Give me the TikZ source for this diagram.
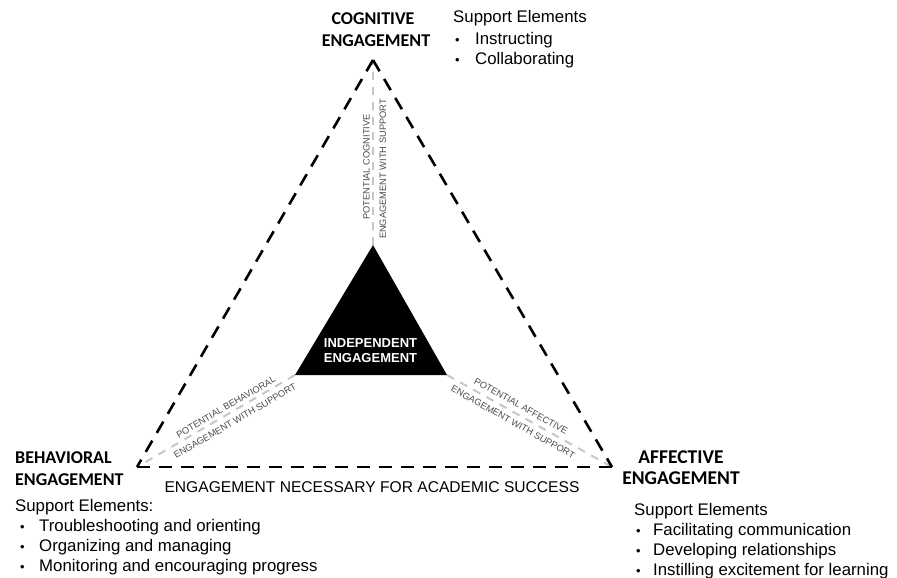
\documentclass[tikz,border=0pt]{standalone}
\usepackage{fontspec}
\setmainfont{Liberation Sans}
\newfontfamily\labfont{Carlito}
\begin{document}
\begin{tikzpicture}[x=1pt,y=-1pt,
  outer/.style={line width=2.6pt, dash pattern=on 13pt off 9pt},
  innerline/.style={line width=2pt, draw=black!22, dash pattern=on 8pt off 7pt},
  lab/.style={font=\labfont\bfseries\fontsize{18}{22}\selectfont, inner sep=0pt, anchor=base},
  labr/.style={font=\labfont\bfseries\fontsize{19.5}{23}\selectfont, inner sep=0pt, anchor=base},
  sup/.style={font=\fontsize{16.8}{20}\selectfont, anchor=base west, inner sep=0pt},
  bul/.style={font=\fontsize{13}{20}\selectfont, anchor=base west, inner sep=0pt},
  pot/.style={font=\fontsize{9.3}{10}\selectfont, text=black!70, inner sep=0pt},
  indep/.style={font=\bfseries\fontsize{13}{15}\selectfont, text=white, inner sep=0pt, anchor=base},
  nec/.style={font=\fontsize{15.6}{18}\selectfont, inner sep=0pt, anchor=base},
]
\useasboundingbox (0,0) rectangle (897,578);
% vertices
\coordinate (C) at (373,60);
\coordinate (B) at (137,467);
\coordinate (A) at (612,467);
\coordinate (ic) at (373,245);
\coordinate (ib) at (295,375);
\coordinate (ia) at (447,375);
% gray potential lines
\draw[innerline] (ic) -- (C);
\draw[innerline] (ib) -- (B);
\draw[innerline] (ia) -- (A);
% inner triangle
\fill[black] (ic) -- (ib) -- (ia) -- cycle;
\node[indep] (ind1) at (370.5,347) {INDEPENDENT};
\node[indep] (ind2) at (370.5,362) {ENGAGEMENT};
% outer dashed triangle
\draw[outer] (C) -- (B);
\draw[outer] (C) -- (A);
\draw[outer] (B) -- (A);
% potential labels
\node[pot, rotate=90] (pc1) at (366.5,167) {POTENTIAL COGNITIVE};
\node[pot, rotate=90] (pc2) at (383,169) {ENGAGEMENT WITH SUPPORT};
\node[pot, rotate=30.2] (pb1) at (226,407) {POTENTIAL BEHAVIORAL};
\node[pot, rotate=30.2] (pb2) at (235,421) {ENGAGEMENT WITH SUPPORT};
\node[pot, rotate=-29.1] (pa1) at (521,406) {POTENTIAL AFFECTIVE};
\node[pot, rotate=-29.1] (pa2) at (513,422) {ENGAGEMENT WITH SUPPORT};
% cognitive
\node[lab] (cog1) at (373,25) {COGNITIVE};
\node[lab] (cog2) at (376,47) {ENGAGEMENT};
\node[sup] (cs0) at (453,23) {Support Elements};
\node[bul] (cb1) at (455,45) {•};
\node[sup] (cs1) at (475,45) {Instructing};
\node[bul] (cb2) at (455,65) {•};
\node[sup] (cs2) at (475,65) {Collaborating};
% behavioral
\node[lab, anchor=base west] (beh1) at (15,463) {BEHAVIORAL};
\node[lab, anchor=base west] (beh2) at (15,485) {ENGAGEMENT};
\node[sup] (bs0) at (15,511) {Support Elements:};
\node[bul] (bb1) at (20,531) {•};
\node[sup] (bs1) at (39,531) {Troubleshooting and orienting};
\node[bul] (bb2) at (20,551) {•};
\node[sup] (bs2) at (39,551) {Organizing and managing};
\node[bul] (bb3) at (20,571) {•};
\node[sup] (bs3) at (39,571) {Monitoring and encouraging progress};
% necessary
\node[nec] (nec) at (372,492) {ENGAGEMENT NECESSARY FOR ACADEMIC SUCCESS};
% affective
\node[labr] (aff1) at (681,463) {AFFECTIVE};
\node[labr] (aff2) at (681,484) {ENGAGEMENT};
\node[sup] (as0) at (634,515) {Support Elements};
\node[bul] (ab1) at (636,535) {•};
\node[sup] (as1) at (653,535) {Facilitating communication};
\node[bul] (ab2) at (636,555) {•};
\node[sup] (as2) at (653,555) {Developing relationships};
\node[bul] (ab3) at (636,575) {•};
\node[sup] (as3) at (653,575) {Instilling excitement for learning};
\end{tikzpicture}
\end{document}
